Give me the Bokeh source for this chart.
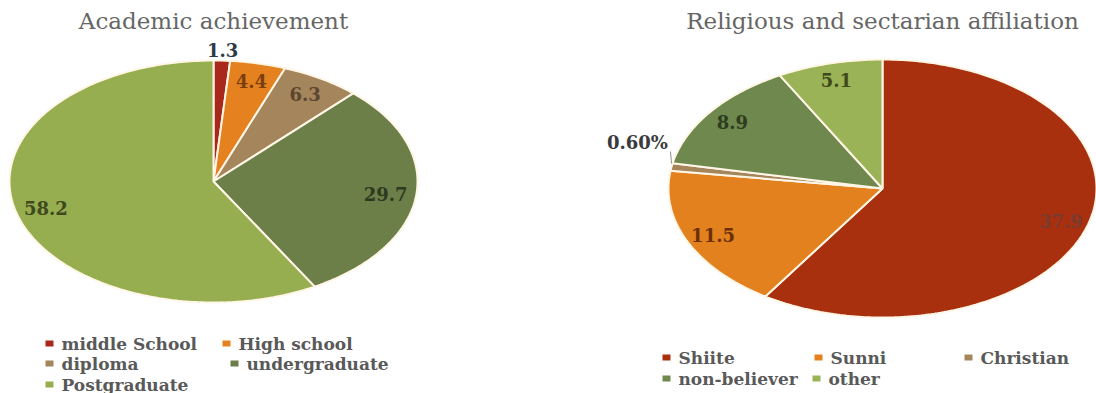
import numpy as np
from bokeh.plotting import figure
from bokeh.models import Range1d, ColumnDataSource
from bokeh.embed import file_html
from bokeh.resources import INLINE
from bokeh.core.properties import value

# ---------------- data ----------------
edu_title = "Academic achievement"
edu_cats = ["middle School", "High school", "diploma", "undergraduate", "Postgraduate"]
edu_vals = [1.3, 4.4, 6.3, 29.7, 58.2]
edu_labels = ["1.3", "4.4", "6.3", "29.7", "58.2"]

rel_title = "Religious and sectarian affiliation"
rel_cats = ["Shiite", "Sunni", "Christian", "non-believer", "other"]
rel_vals = [37.9, 11.5, 0.6, 8.9, 5.1]
rel_labels = ["37.9", "11.5", "0.60%", "8.9", "5.1"]

# ---------------- styles ----------------
edu_colors = ["#A8281C", "#E5821F", "#A5855C", "#6C7F49", "#96AD50"]
edu_lab_colors = ["#2E3A48", "#7B3E10", "#5B4630", "#2C3A20", "#3E4A1E"]
rel_colors = ["#A9300F", "#E2811D", "#A5855C", "#6E884E", "#9AB356"]
rel_lab_colors = ["#7A3A2E", "#6B3008", "#3A3A3A", "#2E3C20", "#3F4A1A"]

SERIF = value("DejaVu Serif")
W, H = 1096, 393

p = figure(width=W, height=H, output_backend="svg", toolbar_location=None,
           x_range=Range1d(0, W), y_range=Range1d(H, 0),
           min_border=0, outline_line_color=None)
p.axis.visible = False
p.grid.visible = False
p.background_fill_color = "white"
p.border_fill_color = "white"


def pie(cx, cy, rx, ry, vals, colors, labels, lab_colors, lab_r, outside):
    vals = np.asarray(vals, dtype=float)
    frac = vals / vals.sum()
    ends = np.cumsum(frac)
    starts = ends - frac
    xs, ys = [], []
    for s, e in zip(starts, ends):
        t = np.linspace(s, e, max(4, int(400 * (e - s)))) * 2 * np.pi
        xs.append(np.concatenate([[cx], cx + rx * np.sin(t), [cx]]))
        ys.append(np.concatenate([[cy], cy - ry * np.cos(t), [cy]]))
    p.patches(xs=xs, ys=ys, fill_color=colors, line_color="#FFF6E6", line_width=2)
    mids = (starts + ends) / 2 * 2 * np.pi
    lx, ly = [], []
    for i, m in enumerate(mids):
        r = lab_r
        dx, dy = 0.0, 0.0
        if i in outside:
            r, dx, dy = outside[i]
        lx.append(cx + r * rx * np.sin(m) + dx)
        ly.append(cy - r * ry * np.cos(m) + dy)
    src = ColumnDataSource(dict(x=lx, y=ly, t=labels, c=lab_colors))
    p.text(x="x", y="y", text="t", text_color="c", source=src,
           text_font=SERIF, text_font_style="bold", text_font_size="18px",
           text_align="center", text_baseline="middle")
    return lx, ly


def legend(items, colors, positions):
    xs = [pp[0] for pp in positions]
    ys = [pp[1] for pp in positions]
    p.rect(x=xs, y=ys, width=8, height=6, width_units="screen", height_units="screen",
           fill_color=colors, line_color=None)
    p.text(x=[x + 12 for x in xs], y=ys, text=items, text_font=SERIF,
           text_font_style="bold", text_font_size="17px", text_color="#595959",
           text_align="left", text_baseline="middle")


# left pie
pie(213, 181, 204, 121, edu_vals, edu_colors, edu_labels, edu_lab_colors, 0.85,
    {0: (1.09, 0, 0)})
# right pie
pie(882, 188, 214, 129, rel_vals, rel_colors, rel_labels, rel_lab_colors, 0.87,
    {2: (1.0, -34, -25)})
# leader line for the small slice label
p.segment(x0=[670], y0=[151], x1=[671], y1=[163], line_color="#8C8C8C", line_width=1)

# titles
p.text(x=[213, 882], y=[20, 20], text=[edu_title, rel_title], text_font=SERIF,
       text_font_size="23px", text_color="#666666", text_align="center",
       text_baseline="middle")

legend(edu_cats, edu_colors,
       [(49, 343), (226, 343), (49, 363), (234, 363), (49, 384)])
legend(rel_cats, rel_colors,
       [(666, 357), (818, 357), (968, 357), (666, 378), (816, 378)])

open("out.html", "w").write(file_html(p, INLINE))
